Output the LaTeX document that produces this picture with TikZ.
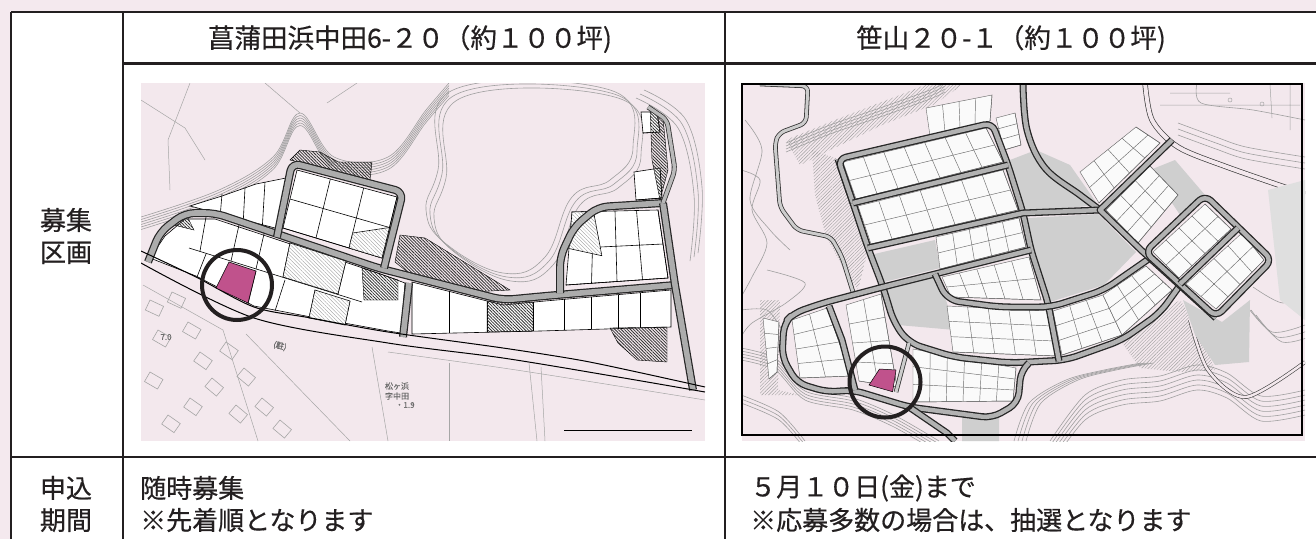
\documentclass[tikz,border=0pt]{standalone}
\usepackage{fontspec}
\newfontfamily\jpfont[FakeBold=0.5]{Noto Sans CJK JP}
\usetikzlibrary{calc, patterns.meta}

\definecolor{bgpink}{RGB}{244,233,238}
\definecolor{mappink}{RGB}{243,232,237}
\definecolor{plotmag}{RGB}{192,82,140}
\definecolor{rulegray}{RGB}{35,31,32}

\tikzset{
  rule/.style={draw=rulegray, line width=2.8pt},
  head/.style={font=\jpfont\fontsize{26.5}{32}\selectfont, text=rulegray, inner sep=0pt, align=center},
  side/.style={font=\jpfont\fontsize{26}{32}\selectfont, text=rulegray, inner sep=0pt, align=center},
  cell/.style={font=\jpfont\fontsize{26}{32}\selectfont, text=rulegray, inner sep=0pt, anchor=west},
  mapnote/.style={font=\jpfont\fontsize{8}{9}\selectfont, text=gray!85!black, inner sep=0pt, align=left},
  contour/.style={draw=gray!75, line width=0.6pt},
  thinline/.style={draw=gray!70, line width=0.5pt},
  house/.style={draw=gray!70, line width=0.6pt},
  lotL/.style={fill=white, draw=black, line width=0.6pt},
  lotline/.style={draw=black, line width=0.6pt},
  lotR/.style={fill=white!96!gray, draw=gray!85!black, line width=0.45pt},
  roadL/.style={draw=black!85, line width=8pt, line join=round, postaction={draw=gray!65, line width=5.6pt}},
  laneL/.style={draw=black!80, line width=5pt, line join=round, postaction={draw=gray!55, line width=3.4pt}},
  roadR/.style={draw=black!85, line width=7pt, line join=round, postaction={draw=gray!60, line width=4.4pt}},
  laneR/.style={draw=black!80, line width=4.6pt, line join=round, postaction={draw=gray!40, line width=3pt}},
  hatchD/.style={pattern={Lines[angle=-45, distance=2.2pt, line width=0.8pt]}, pattern color=black!80},
  hatchL/.style={fill=white, postaction={pattern={Lines[angle=-45, distance=2.6pt, line width=0.35pt]}, pattern color=gray!80}},
  hatchG/.style={pattern={Lines[angle=45, distance=2.4pt, line width=0.4pt]}, pattern color=gray!75},
  greyzone/.style={fill=gray!38},
}

% lot block: corners TL, TR, BR, BL, columns, rows
\newcommand{\lotblock}[7][lotL]{%
  \filldraw[#1] (#2) -- (#3) -- (#4) -- (#5) -- cycle;
  \foreach \ii [evaluate=\ii as \ff using \ii/#6] in {1,...,#6}
    \draw[#1, fill=none] ($(#2)!\ff!(#3)$) -- ($(#5)!\ff!(#4)$);
  \foreach \ii [evaluate=\ii as \ff using \ii/#7] in {1,...,#7}
    \draw[#1, fill=none] ($(#2)!\ff!(#5)$) -- ($(#3)!\ff!(#4)$);
}

\begin{document}
\begin{tikzpicture}[x=1pt, y=-1pt]
 \useasboundingbox (0,0) rectangle (1316,539);
 \fill[bgpink] (0,0) rectangle (1316,539);
 \fill[white] (11,12) rectangle (1316,539);

 % ---- map of Shobutahama ----
 \begin{scope}
 \clip (141,83) rectangle (705,441);
 \fill[mappink] (141,83) rectangle (705,441);
 \foreach \d in {0,2.5,5,7.5,10,12.5}
   \draw[contour, shift={(0,\d)}] plot[smooth, tension=0.6] coordinates {(141,217) (219,190) (273,157) (300,113) (334,157) (388,157) (426,110) (449,83)};
 \foreach \d in {0,4,8}
   \draw[contour, shift={(\d,\d)}] plot[smooth cycle, tension=0.7] coordinates {(438,170) (453,90) (610,90) (633,147) (610,180) (572,197) (545,257) (503,273) (445,243) (426,210)};
 \foreach \d in {0,4,8}
   \draw[contour, shift={(-\d,\d)}] plot[smooth, tension=0.6] coordinates {(644,90) (686,120) (702,187) (698,253)};
 \draw[thinline] (141,100) -- (185,128) -- (205,160);
 \draw[thinline] (190,83) -- (168,140) -- (170,190);
 \draw[thinline] (265,83) -- (300,113);
 \draw[thinline] (327,103) -- (357,83);
 \draw[thinline] (143,285) -- (223,330) -- (258,441);
 \draw[thinline] (246,334) -- (350,441);
 \draw[thinline] (372,347) -- (388,441);
 \draw[thinline] (449,363) -- (449,441);
 \draw[thinline] (529,363) -- (537,441);
 \draw[thinline] (541,367) -- (545,441);
 \draw[thinline] plot[smooth] coordinates {(388,352) (503,368) (618,386) (705,400)};
 \foreach \x/\y/\a in {150/300/-25, 172/292/-25, 158/330/-30, 188/322/-30, 200/352/-35, 226/342/-35, 212/378/-40, 244/368/-40, 236/405/-40, 262/398/-40, 150/372/-30, 168/415/-35, 190/398/-35, 280/420/-40}
   \draw[house, shift={(\x,\y)}, rotate=\a] (0,0) rectangle (15,11);

 % lots
 \filldraw[lotL] (190,206) -- (279,229) -- (286,178) -- (256,184) -- (222,196) -- cycle;
 \draw[lotline] (222,194) -- (220,218) (245,188) -- (243,226) (265,182) -- (262,232);
 \filldraw[lotL] (150,258) -- (165,236) -- (185,219) -- (215,219) -- (378,273) -- (405,283) -- (401,333) -- (388,331) -- (311,317) -- (254,306) -- (196,276) -- cycle;
 \draw[lotline] (189,248) -- (362,302);
 \draw[lotline] (206,217) -- (200,251) (239,225) -- (231,261) (264,234) -- (256,269) (290,243) -- (283,277) (346,261) -- (338,294);
 \draw[lotline] (206,254) -- (197,277) (256,271) -- (248,304) (285,280) -- (275,311) (315,290) -- (309,318) (350,301) -- (345,325);
 \filldraw[hatchL, draw=black, line width=0.6pt] (290,243) -- (346,261) -- (338,294) -- (283,277) -- cycle;
 \filldraw[hatchL, draw=black, line width=0.6pt] (315,290) -- (350,301) -- (345,325) -- (309,318) -- cycle;
 \lotblock{297,170}{397,197}{382,258}{283,228}{3}{2}
 \filldraw[hatchL, draw=black, line width=0.6pt] ($(297,170)!0.667!(397,197)!0.5!(283,228)!0.5!(382,258)$) -- ($(283,228)!0.667!(382,258)$) -- (382,258) -- ($(397,197)!0.5!(382,258)$) -- cycle;
 \lotblock{572,212}{658,210}{668,278}{566,285}{4}{2}
 \filldraw[hatchL, draw=black, line width=0.6pt] (572,212) -- ($(572,212)!0.25!(658,210)$) -- ($(572,212)!0.25!(658,210)!0.5!(566,285)!0.25!(668,278)$) -- ($(572,212)!0.5!(566,285)$) -- cycle;
 \filldraw[lotL] (412,282) -- (503,305) -- (545,301) -- (671,290) -- (671,327) -- (540,331) -- (412,334) -- cycle;
 \draw[lotline] (449,291) -- (449,333) (487,301) -- (487,332) (533,302) -- (533,331) (564,299) -- (564,330) (591,297) -- (591,329) (618,295) -- (618,329) (640,293) -- (640,328);
 \lotblock{634,172}{660,168}{662,198}{636,200}{1}{1}
 \lotblock{641,112}{657,112}{660,132}{643,133}{1}{1}
 \filldraw[hatchD, draw=black] (487,301) -- (533,302) -- (533,331) -- (487,332) -- cycle;
 \filldraw[hatchD, draw=black] (610,328) -- (667,327) -- (667,362) -- (637,360) -- (618,343) -- cycle;
 \filldraw[hatchD, draw=black] (400,235) -- (425,238) -- (510,290) -- (470,292) -- (410,274) -- (395,262) -- cycle;
 \filldraw[hatchD, draw=black] (290,160) -- (300,150) -- (320,152) -- (338,162) -- (372,162) -- (370,180) -- cycle;
 \filldraw[hatchD, draw=black] (362,268) -- (398,280) -- (398,300) -- (364,300) -- cycle;
 \filldraw[hatchD, draw=black] (650,108) -- (663,118) -- (668,170) -- (660,200) -- (652,160) -- cycle;
 \filldraw[hatchD, draw=black] (170,224) -- (186,214) -- (194,230) -- cycle;

 % roads
 \draw[roadL, rounded corners=10pt] (148,262) -- (160,232) -- (185,213) -- (215,213) -- (378,268) -- (503,300) -- (545,296) -- (675,285);
 \draw[roadL, rounded corners=8pt] (277,237) -- (292,163) -- (403,192) -- (384,268);
 \draw[roadL, rounded corners=10pt] (560,293) -- (560,257) -- (574,227) -- (598,207) -- (663,203);
 \draw[roadL] (663,203) -- (675,285) -- (693,390);
 \draw[laneL, rounded corners=6pt] (663,203) -- (675,170) -- (667,120) -- (648,107);
 \draw[roadL] (409,283) -- (403,337);
 \draw[line width=1pt] plot[smooth] coordinates {(141,251) (196,277) (254,307) (311,318) (388,332) (503,348) (579,360) (637,372) (705,387)};
 \draw[line width=1pt] plot[smooth] coordinates {(141,263) (254,318) (388,343) (503,358) (618,377) (705,392)};

 % the plot on offer
 \filldraw[fill=plotmag, draw=black, line width=0.5pt] (229,262) -- (256,271) -- (248,303) -- (216,288) -- cycle;
 \draw[line width=4pt, rulegray] (237,285) circle[radius=35];

 \node[mapnote] (placeA) at (397,386) {松ヶ浜};
 \node[mapnote] (placeB) at (397,396) {字中田};
 \node[mapnote] (levelA) at (405,405) {・1.9};
 \node[mapnote] (levelB) at (166,337) {7.0};
 \node[mapnote, rotate=-15] (parking) at (280,346) {(駐)};
 \draw[line width=0.9pt] (564,430) -- (692,430);
 \end{scope}

 % ---- map of Sasayama ----
 \begin{scope}
 \clip (742,83) rectangle (1305,441);
 \fill[mappink] (742,83) rectangle (1305,441);
 % slopes round the estate
 \fill[hatchG] (786,140) -- (840,118) -- (900,95) -- (930,83) -- (965,83) -- (935,104) -- (880,126) -- (830,150) -- (800,165) -- cycle;
 \fill[hatchG] (812,150) -- (838,159) -- (855,205) -- (868,250) -- (858,290) -- (840,262) -- (826,236) -- (815,195) -- cycle;
 \fill[hatchG] (1120,340) -- (1180,300) -- (1200,330) -- (1215,370) -- (1180,372) -- (1140,368) -- cycle;
 \fill[hatchG] (760,300) -- (780,300) -- (778,390) -- (800,395) -- (760,395) -- cycle;
 \foreach \d in {0,3,6,9,12}
   \draw[contour, shift={(0,\d)}] plot[smooth] coordinates {(741,348) (775,358) (805,388) (853,398) (894,415) (939,441)};
 \foreach \d in {0,4,8}
   \draw[contour, shift={(0,\d)}] plot[smooth] coordinates {(741,395) (779,412) (805,441)};
 \foreach \d in {0,4,8,12}
   \draw[contour, shift={(\d,0)}] plot[smooth] coordinates {(1014,441) (1029,403) (1066,380) (1104,370) (1141,363)};
 \foreach \d in {0,5,10,15,20,25}
   \draw[contour, shift={(0,\d)}] plot[smooth] coordinates {(1050,441) (1085,395) (1122,380) (1160,376) (1197,365) (1227,373) (1261,396) (1305,390)};
 \foreach \d in {0,5,10}
   \draw[contour, shift={(\d,\d)}] plot[smooth] coordinates {(1246,305) (1272,332) (1305,325)};
 \draw[contour] plot[smooth] coordinates {(1253,287) (1283,303) (1305,287)};
 \draw[contour] plot[smooth] coordinates {(741,170) (760,180) (752,210) (767,243) (752,277) (741,297)};
 \draw[contour] plot[smooth] coordinates {(767,270) (805,283) (786,303) (752,323) (741,337)};
 \draw[contour] plot[smooth] coordinates {(741,310) (767,310) (782,330)};
 \draw[contour] plot[smooth] coordinates {(745,120) (762,150) (750,200) (770,230) (790,250)};
 \foreach \d in {0,3,6,9}
   \draw[contour, shift={(0,\d)}] plot[smooth] coordinates {(786,143) (830,125) (880,108) (930,90) (945,83)};
 \foreach \d in {0,6,12}
   \draw[contour, shift={(0,\d)}] plot[smooth] coordinates {(1178,123) (1216,137) (1246,147) (1305,157)};
 \draw[contour] plot[smooth] coordinates {(1197,83) (1201,103) (1253,110) (1305,120)};
 \draw[thinline] (1160,105) -- (1300,105) (1170,93) -- (1230,93) (1290,85) -- (1290,130) (1270,85) -- (1272,118);
 \draw[thinline] (1230,100) circle[radius=2] (1262,104) circle[radius=2];
 \draw[draw=black!75, line width=0.7pt, double=mappink, double distance=4pt] plot[smooth] coordinates {(1145,83) (1152,120) (1178,147) (1227,167) (1305,194)};
 \draw[draw=black!75, line width=0.6pt, double=mappink, double distance=2.5pt] plot[smooth] coordinates {(1190,320) (1208,370) (1246,397) (1305,362)};

 % grey zones
 \fill[greyzone] (1010,160) -- (1036,150) -- (1070,165) -- (1098,205) -- (1025,212) -- cycle;
 \fill[greyzone] (1028,218) -- (1098,214) -- (1136,252) -- (1104,285) -- (1050,302) -- (1044,290) -- (1031,250) -- cycle;
 \fill[greyzone] (870,255) -- (935,240) -- (940,268) -- (884,282) -- cycle;
 \fill[greyzone] (886,288) -- (935,275) -- (946,300) -- (955,330) -- (898,325) -- cycle;
 \fill[greyzone] (1150,170) -- (1175,160) -- (1205,195) -- (1180,215) -- cycle;
 \fill[greyzone] (1183,300) -- (1222,322) -- (1250,300) -- (1249,362) -- (1215,365) -- (1195,335) -- cycle;
 \fill[greyzone] (962,413) -- (999,418) -- (999,441) -- (962,441) -- cycle;
 \fill[gray!25] (1268,190) -- (1305,180) -- (1305,320) -- (1280,300) -- cycle;

 % lots
 \lotblock[lotR]{926,108}{992,95}{990,121}{930,136}{4}{1}
 \lotblock[lotR]{996,118}{1015,113}{1021,145}{1004,150}{1}{3}
 \lotblock[lotR]{843,162}{986,128}{1003,162}{856,199}{7}{2}
 \lotblock[lotR]{858,206}{1003,170}{1018,210}{871,244}{7}{2}
 \lotblock[lotR]{936,237}{1019,218}{1026,247}{940,269}{5}{2}
 \lotblock[lotR]{942,277}{1029,257}{1041,300}{951,297}{5}{2}
 \lotblock[lotR]{947,306}{1050,311}{1057,356}{953,352}{5}{3}
 \lotblock[lotR]{1053,311}{1103,295}{1122,335}{1062,355}{3}{3}
 \lotblock[lotR]{1103,295}{1146,266}{1172,290}{1122,335}{3}{3}
 \lotblock[lotR]{792,320}{827,308}{851,376}{800,378}{2}{4}
 \lotblock[lotR]{846,305}{881,294}{897,387}{859,381}{2}{4}
 \lotblock[lotR]{763,318}{779,322}{777,372}{769,379}{1}{4}
 \lotblock[lotR]{913,349}{1016,368}{1013,401}{913,402}{6}{3}
 \lotblock[lotR]{1080,172}{1136,127}{1160,143}{1099,203}{4}{2}
 \lotblock[lotR]{1106,210}{1150,166}{1178,195}{1138,243}{3}{3}
 \lotblock[lotR]{1153,252}{1205,204}{1231,229}{1179,278}{4}{2}
 \lotblock[lotR]{1186,284}{1242,233}{1264,260}{1216,309}{4}{2}

 % roads
 \draw[laneR, rounded corners=6pt] (760,84) -- (808,86) -- (806,123) -- (779,133) -- (775,143) -- (780,207) -- (797,230) -- (831,237) -- (842,257) -- (853,292);
 \draw[roadR] plot[smooth, tension=0.6] coordinates {(1023,83) (1027,130) (1045,168) (1080,195) (1100,210)};
 \draw[roadR, rounded corners=12pt] (838,159) -- (853,203) -- (868,248) -- (883,287) -- (894,323) -- (909,343) -- (954,357) -- (1010,363) -- (1066,360) -- (1122,340) -- (1160,313) -- (1178,288);
 \draw[roadR, rounded corners=8pt] (853,203) -- (838,159) -- (992,123) -- (1008,165) -- (1023,213) -- (1031,250) -- (1048,303) -- (1059,361);
 \draw[roadR] (853,203) -- (1008,165);
 \draw[roadR] (868,248) -- (1023,213) -- (1100,210);
 \draw[roadR, rounded corners=10pt] (1031,250) -- (883,287) -- (823,303) -- (794,313) -- (784,323) -- (782,357) -- (797,383) -- (827,392) -- (853,390) -- (909,407) -- (992,418) -- (1018,403) -- (1021,370) -- (1029,363);
 \draw[roadR] (829,306) -- (842,340) -- (855,390);
 \draw[laneR] (909,343) -- (896,392);
 \draw[roadR] (909,407) -- (947,433) -- (955,441);
 \draw[roadR, rounded corners=12pt] (935,274) -- (947,300) -- (999,307) -- (1051,307) -- (1104,290) -- (1150,258);
 \draw[roadR] (1172,140) -- (1100,210) -- (1141,250) -- (1216,318);
 \draw[roadR, rounded corners=8pt] (1145,252) -- (1205,195) -- (1272,260) -- (1216,317) -- cycle;
 \draw[roadR] (1238,228) -- (1180,284);

 % the plot on offer
 \filldraw[fill=plotmag, draw=black, line width=0.5pt] (879.5,369) -- (896,370) -- (892.6,391.7) -- (869,385) -- cycle;
 \draw[line width=4pt, rulegray] (885,382) circle[radius=35.5];
 \end{scope}
 \draw[line width=1.2pt] (742,84) rectangle (1302,435);

 % ---- table ----
 \coordinate (tl) at (11,12);
 \coordinate (tr) at (1316,12);
 \coordinate (bl) at (11,539);
 \coordinate (colA) at (123,12);
 \coordinate (colB) at (725,12);
 \draw[rule] (tl) -- (tr);
 \draw[rule] (tl) -- (bl);
 \draw[rule] (colA) -- (colA |- bl);
 \draw[rule] (colB) -- (colB |- bl);
 \draw[rule] (123,63.5) -- (1316,63.5);
 \draw[rule] (11,457) -- (1316,457);

 \node[head] (addrA) at (410,39) {菖蒲田浜中田6-２０（約１００坪)};
 \node[head] (addrB) at (1011,39) {笹山２０-１（約１００坪)};
 \node[side] (lotlabel) at (66,236) {募集\\区画};
 \node[side] (termlabel) at (66,504) {申込\\期間};
 \node[cell] (termA) at (140,488) {随時募集};
 \node[cell] (noteA) at (140,520) {※先着順となります};
 \node[cell] (termB) at (750,488) {５月１０日(金)まで};
 \node[cell] (noteB) at (750,520) {※応募多数の場合は、抽選となります};
\end{tikzpicture}
\end{document}
